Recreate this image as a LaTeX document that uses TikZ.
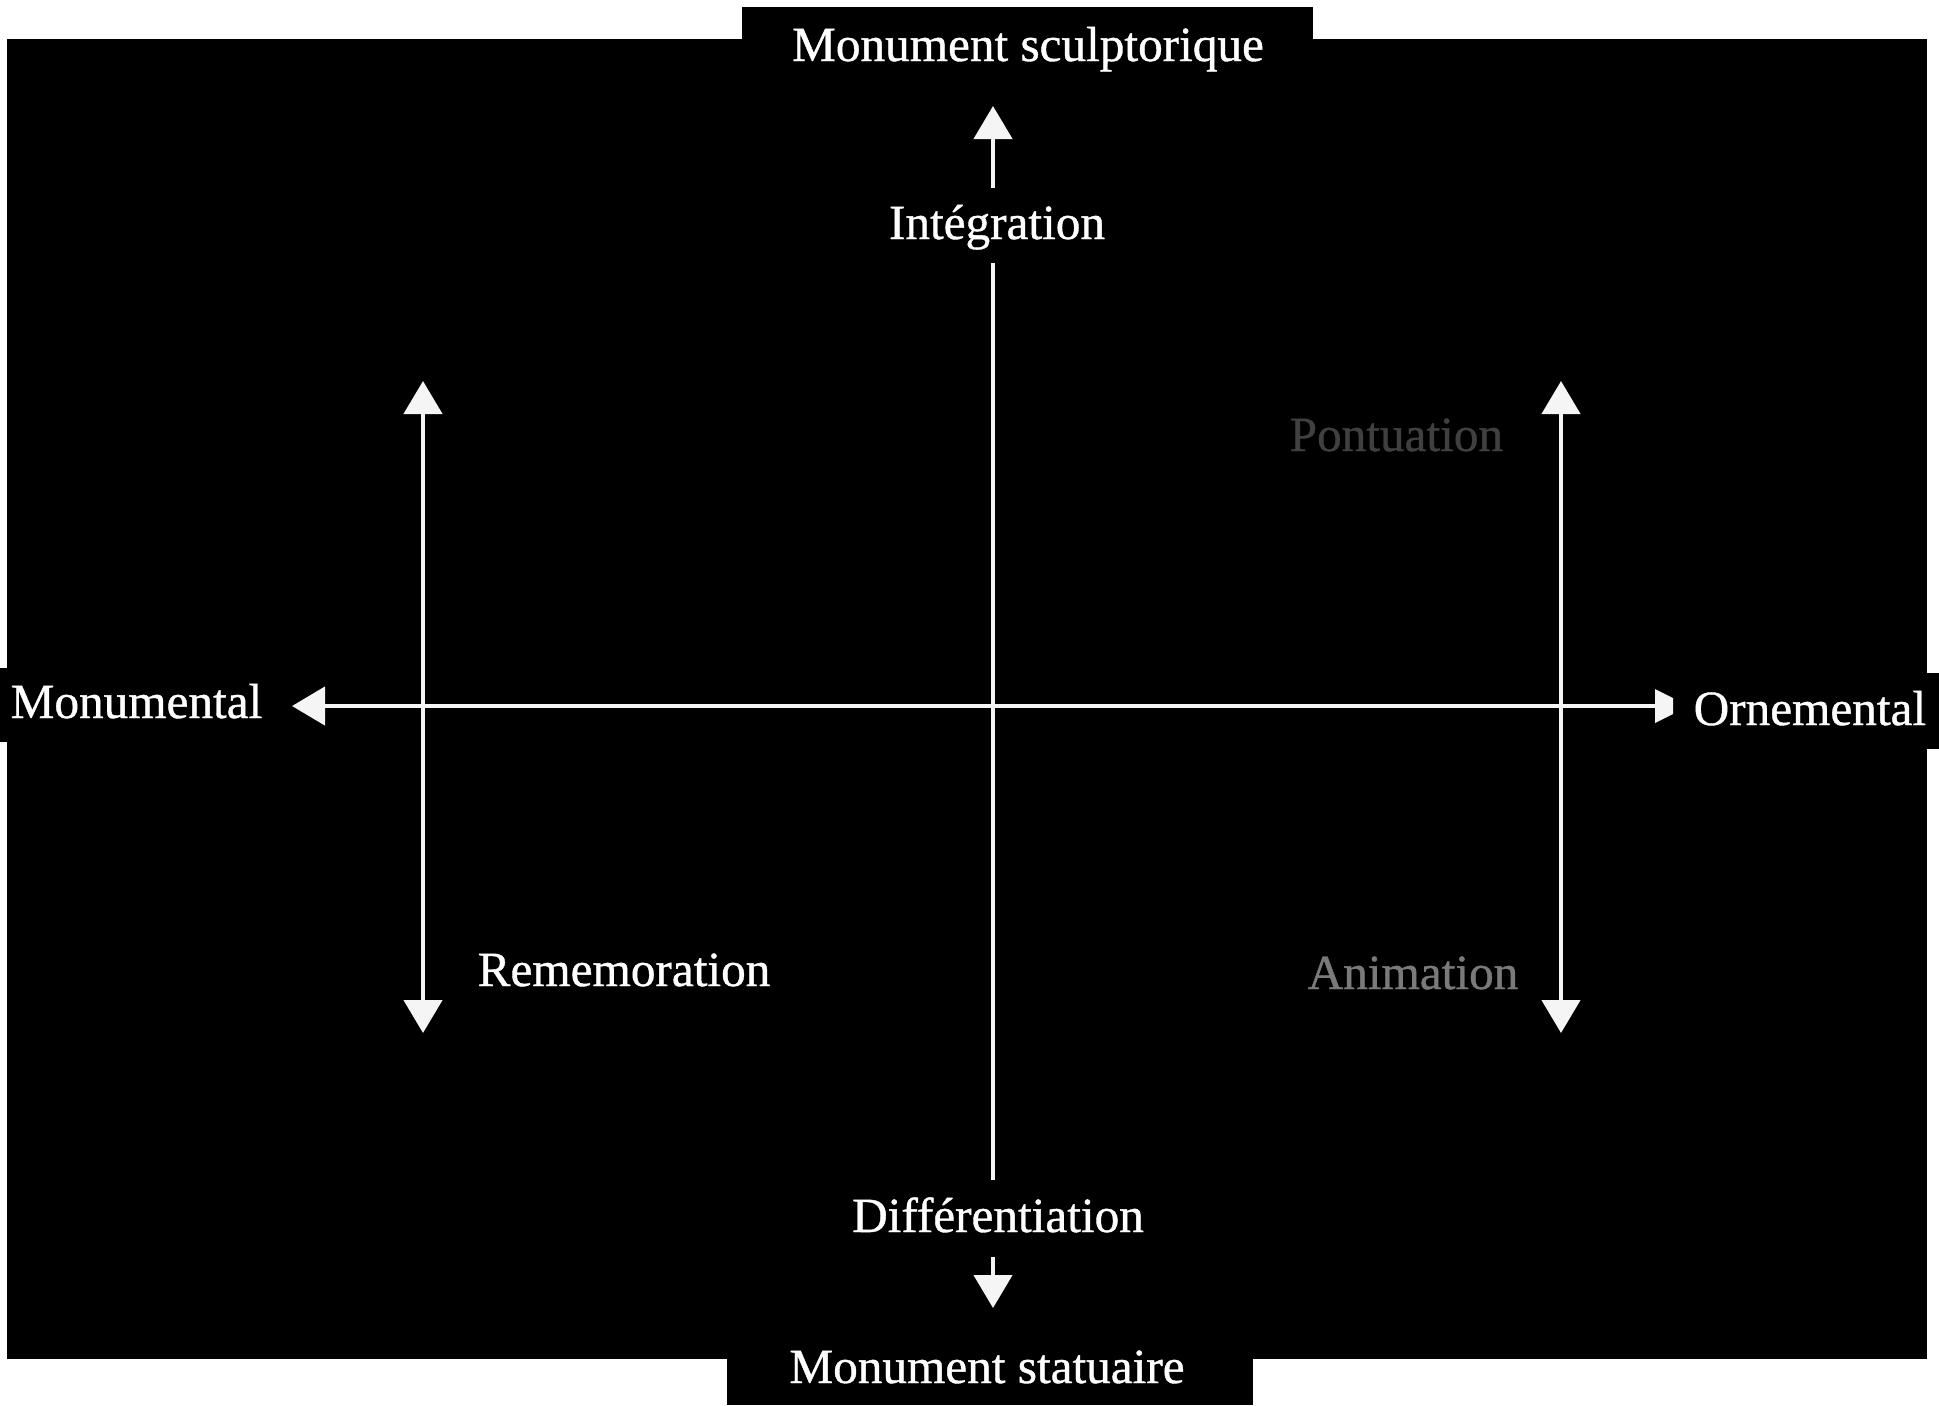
\documentclass[tikz,border=0pt]{standalone}
\usepackage{fontspec}
\setmainfont{Liberation Serif}
\newfontfamily\lblfont{Liberation Serif}[BoldFont=Liberation Serif,BoldFeatures={FakeBold=0.8}]
\usetikzlibrary{arrows.meta}
\begin{document}
\begin{tikzpicture}[x=0.01cm,y=-0.01cm,
  lbl/.style={text=white,font=\lblfont\bfseries\fontsize{14pt}{16pt}\selectfont,inner sep=0pt,anchor=base},
  axis/.style={draw=gray!8,line width=0.045cm},
  arr/.style={axis,-{Triangle[width=0.38cm,length=0.33cm]}},
  darr/.style={axis,{Triangle[width=0.38cm,length=0.33cm]}-{Triangle[width=0.38cm,length=0.33cm]}}]
\useasboundingbox[fill=white] (0,0) rectangle (1939,1405);
% black panel with tabs
\fill[black] (7,39) rectangle (1927,1359);
\fill[black] (742,7) rectangle (1313,39);
\fill[black] (727,1359) rectangle (1253,1405);
\fill[black] (0,668) rectangle (7,742);
\fill[black] (1927,673) rectangle (1939,749);
% labels
\node[lbl] (ms) at (1028,61) {Monument sculptorique};
\node[lbl] (integ) at (997,239) {Intégration};
\node[lbl,anchor=base west] (monu) at (10,718) {Monumental};
\node[lbl,anchor=base west] (orne) at (1693,725) {Ornemental};
\node[lbl,anchor=base west,text=black!75] (pont) at (1289,451) {Pontuation};
\node[lbl,anchor=base west] (reme) at (477,986) {Rememoration};
\node[lbl,anchor=base west,text=black!52] (anim) at (1307,989) {Animation};
\node[lbl] (diff) at (998,1232) {Différentiation};
\node[lbl] (mst) at (987,1383) {Monument statuaire};
% central vertical axis
\coordinate (tTip) at (993,106);
\coordinate (tBot) at (993,188);
\coordinate (cTop) at (993,263);
\coordinate (cBot) at (993,1180);
\coordinate (bTop) at (993,1257);
\coordinate (bTip) at (993,1308);
\draw[arr] (tBot) -- (tTip);
\draw[axis] (cTop) -- (cBot);
\draw[arr] (bTop) -- (bTip);
% horizontal axis
\coordinate (hL) at (292,706);
\coordinate (hR) at (1656,706);
\draw[arr] (hR) -- (hL);
\fill[gray!8] (1655,689) -- (1673,698) -- (1673,714) -- (1655,723) -- cycle;
% side arrows
\coordinate (lT) at (423,381);
\coordinate (lB) at (423,1033);
\draw[darr] (lT) -- (lB);
\coordinate (rT) at (1561,381);
\coordinate (rB) at (1561,1033);
\draw[darr] (rT) -- (rB);
\end{tikzpicture}
\end{document}
